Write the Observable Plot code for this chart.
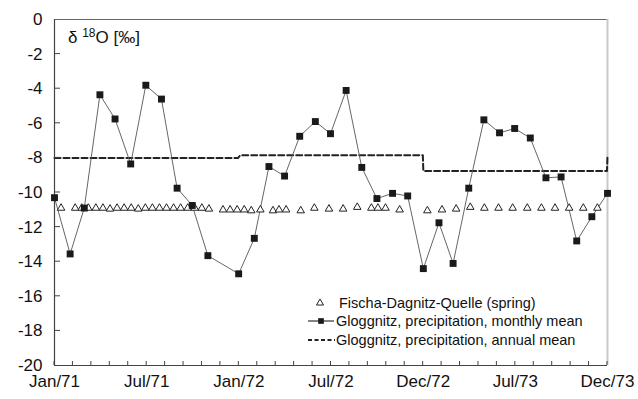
<!DOCTYPE html>
<html>
<head>
<meta charset="utf-8">
<script src="https://cdn.jsdelivr.net/npm/d3@7"></script>
<script src="https://cdn.jsdelivr.net/npm/@observablehq/plot@0.6"></script>
<style>
  html, body { margin: 0; padding: 0; background: #fff; }
  #chart svg { display: block; }
</style>
</head>
<body>
<div id="chart"></div>
<script>
// ---------------- data ----------------
const monthlyDates = [
  "1971-01-01","1971-02-01","1971-03-01","1971-04-01","1971-05-01","1971-06-01",
  "1971-07-01","1971-08-01","1971-09-01","1971-10-01","1971-11-01","1971-12-01",
  "1972-01-01","1972-02-01","1972-03-01","1972-04-01","1972-05-01","1972-06-01",
  "1972-07-01","1972-08-01","1972-09-01","1972-10-01","1972-11-01","1972-12-01",
  "1973-01-01","1973-02-01","1973-03-01","1973-04-01","1973-05-01","1973-06-01",
  "1973-07-01","1973-08-01","1973-09-01","1973-10-01","1973-11-01","1973-12-01",
  "1974-01-01"
];
const monthlyValues = [
  -10.3, -13.55, -10.9, -4.35, -5.75, -8.35,
  -3.8, -4.6, -9.75, -10.75, -13.65, null,
  -14.7, -12.65, -8.5, -9.05, -6.75, -5.9,
  -6.6, -4.1, -8.55, -10.35, -10.05, -10.2,
  -14.4, -11.75, -14.1, -9.75, -5.8, -6.55,
  -6.3, -6.85, -9.15, -9.1, -12.8, -11.4,
  -10.05
];

const springDates = [
  "1971-01-14","1971-02-11","1971-02-24","1971-03-09","1971-03-24","1971-04-07",
  "1971-04-21","1971-05-05","1971-05-19","1971-06-02","1971-06-16","1971-06-30",
  "1971-07-14","1971-07-28","1971-08-11","1971-08-25","1971-09-08","1971-09-22",
  "1971-10-06","1971-10-20","1971-11-03","1971-12-01","1971-12-15","1971-12-29",
  "1972-01-12","1972-01-26","1972-02-13","1972-03-09","1972-03-21","1972-04-04",
  "1972-05-03","1972-05-30","1972-06-28","1972-07-26","1972-08-23","1972-09-20",
  "1972-10-03","1972-10-18","1972-11-15","1973-01-09","1973-02-07","1973-03-07",
  "1973-04-04","1973-05-02","1973-05-30","1973-06-27","1973-07-26","1973-08-23",
  "1973-09-19","1973-10-17","1973-11-14","1973-12-12"
];
const springValues = [
  -10.9, -10.9, -10.9, -10.9, -10.9, -10.9,
  -10.95, -10.9, -10.9, -10.9, -10.95, -10.9,
  -10.9, -10.9, -10.9, -10.9, -10.9, -10.9,
  -10.9, -10.9, -10.95, -11.0, -11.0, -11.0,
  -11.0, -11.05, -11.0, -11.05, -11.0, -11.0,
  -11.05, -10.9, -10.95, -10.95, -10.85, -10.9,
  -10.9, -10.9, -11.0, -11.05, -11.0, -10.95,
  -10.85, -10.9, -10.9, -10.9, -10.9, -10.9,
  -10.9, -10.9, -10.9, -10.9
];

const annualDates = ["1971-01-01","1971-12-31","1972-01-04","1972-12-31","1973-01-01","1973-12-31","1974-01-01"];
const annualValues = [-8.0, -8.0, -7.85, -7.85, -8.75, -8.75, -7.85];

const xTickLabels = ["Jan/71","Jul/71","Jan/72","Jul/72","Dec/72","Jul/73","Dec/73"];
const yTicks = [0, -2, -4, -6, -8, -10, -12, -14, -16, -18, -20];

const seriesNames = [
  "Fischa-Dagnitz-Quelle (spring)",
  "Gloggnitz, precipitation, monthly mean",
  "Gloggnitz, precipitation, annual mean"
];

// ---------------- tables ----------------
const monthly = monthlyDates
  .map((d, i) => ({date: new Date(d), value: monthlyValues[i]}))
  .filter(d => d.value != null);
const spring = springDates.map((d, i) => ({date: new Date(d), value: springValues[i]}));
const annual = annualDates.map((d, i) => ({date: new Date(d), value: annualValues[i]}));

const x0 = new Date("1971-01-01"), x1 = new Date("1974-01-01");
const span = x1 - x0;
const majorTicks = xTickLabels.map((_, i) => new Date(+x0 + span * i / (xTickLabels.length - 1)));
const minorTicks = d3.range(31).map(i => new Date(+x0 + span * i / 30));
const labelOf = new Map(majorTicks.map((d, i) => [+d, xTickLabels[i]]));

const axisColor = "#444";
const font = "'Liberation Sans', Arial, sans-serif";

const chart = Plot.plot({
  width: 638,
  height: 399,
  marginLeft: 54,
  marginRight: 31,
  marginTop: 19,
  marginBottom: 34,
  style: {fontFamily: font, fontSize: "17px", color: "#111", background: "#fff"},
  x: {type: "utc", domain: [x0, x1], label: null},
  y: {domain: [-20, 0], label: null},
  marks: [
    // frame: top (dark), right (light)
    Plot.ruleY([0], {stroke: "#666", strokeWidth: 1}),
    Plot.ruleX([x1], {stroke: "#c8c8c8", strokeWidth: 2}),
    // axis labels
    Plot.axisY({ticks: yTicks, tickSize: 0, tickPadding: 12, label: null, tickFormat: d => String(d), fontSize: 17}),
    Plot.axisX({ticks: majorTicks, tickSize: 0, tickPadding: 9, label: null, tickFormat: d => labelOf.get(+d), fontSize: 17}),
    // axis lines
    Plot.ruleX([x0], {stroke: axisColor, strokeWidth: 1.2}),
    Plot.ruleY([-20], {stroke: axisColor, strokeWidth: 1.2}),
    // annual mean (dashed)
    Plot.line(annual, {x: "date", y: "value", stroke: "#222", strokeWidth: 2, strokeDasharray: "6,3", curve: "linear"}),
    // monthly mean
    Plot.line(monthly, {x: "date", y: "value", stroke: "#555", strokeWidth: 0.9}),
    // spring
    Plot.dot(spring, {x: "date", y: "value", symbol: "triangle", r: 2.8, stroke: "#222", strokeWidth: 1, fill: "#fff"}),
    Plot.dot(monthly, {x: "date", y: "value", symbol: "square", r: 3.9, fill: "#1a1a1a", stroke: "none"})
  ]
});

document.getElementById("chart").appendChild(chart);

const svg = d3.select(chart);
const xs = chart.scale("x"), ys = chart.scale("y");

// ---------------- inward tick marks (from Plot's scales) ----------------
const tk = svg.append("g").attr("stroke", axisColor).attr("stroke-width", 1);
const yBottom = ys.apply(-20);
minorTicks.forEach(d => {
  const px = xs.apply(d);
  tk.append("line").attr("x1", px).attr("x2", px).attr("y1", yBottom).attr("y2", yBottom - 4);
});
const xLeft = xs.apply(x0);
yTicks.filter(v => v !== 0 && v !== -20).forEach(v => {
  const py = ys.apply(v);
  tk.append("line").attr("x1", xLeft).attr("x2", xLeft + 6).attr("y1", py).attr("y2", py);
});

// ---------------- title inside plot ----------------
const title = svg.append("text")
  .attr("x", 68).attr("y", 43)
  .attr("text-anchor", "start")
  .attr("font-family", font)
  .attr("font-size", 17).attr("fill", "#111");
title.append("tspan").text("δ ");
title.append("tspan").attr("font-size", 12).attr("dy", -6).text("18");
title.append("tspan").attr("dy", 6).text("O [‰]");

// ---------------- legend ----------------
const lg = svg.append("g")
  .attr("font-family", font)
  .attr("text-anchor", "start")
  .attr("font-size", 14.5).attr("fill", "#111");
const rows = [303, 321, 340];
lg.append("path")
  .attr("transform", `translate(320,${rows[0]})`)
  .attr("d", d3.symbol(d3.symbolTriangle, 2.6 * 2.6 * Math.PI)())
  .attr("fill", "#fff").attr("stroke", "#222").attr("stroke-width", 1);
lg.append("text").attr("x", 339).attr("y", rows[0]).attr("dy", "0.35em").text(seriesNames[0]);
lg.append("line").attr("x1", 308).attr("x2", 334).attr("y1", rows[1]).attr("y2", rows[1])
  .attr("stroke", "#333").attr("stroke-width", 1.2);
lg.append("path")
  .attr("transform", `translate(321,${rows[1]})`)
  .attr("d", d3.symbol(d3.symbolSquare, 3.2 * 3.2 * Math.PI)())
  .attr("fill", "#1a1a1a");
lg.append("text").attr("x", 336).attr("y", rows[1]).attr("dy", "0.35em").text(seriesNames[1]);
lg.append("line").attr("x1", 308).attr("x2", 335).attr("y1", rows[2]).attr("y2", rows[2])
  .attr("stroke", "#222").attr("stroke-width", 1.8).attr("stroke-dasharray", "4,2.5");
lg.append("text").attr("x", 336).attr("y", rows[2]).attr("dy", "0.35em").text(seriesNames[2]);
</script>
</body>
</html>
